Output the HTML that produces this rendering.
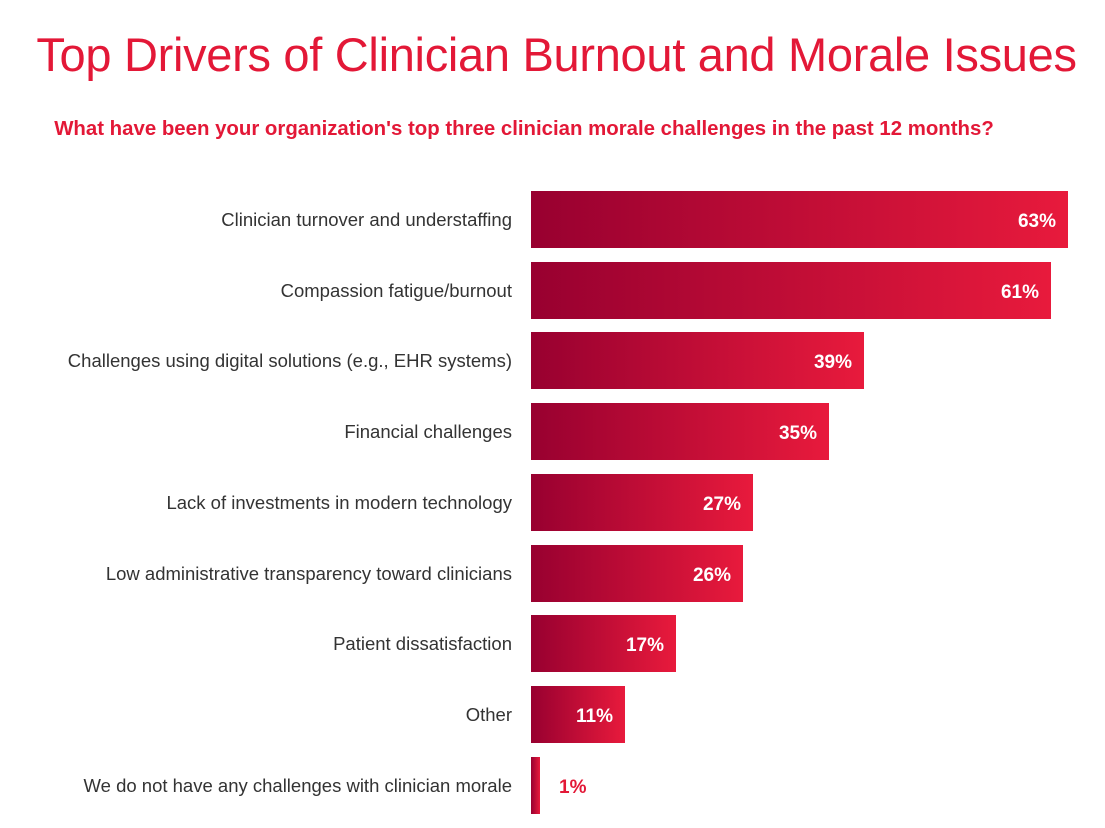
<!DOCTYPE html>
<html><head><meta charset="utf-8"><style>
body{margin:0;width:1105px;height:828px;background:#fff;position:relative;overflow:hidden;font-family:"Liberation Sans",sans-serif}
.t{position:absolute;left:0;width:1113px;text-align:center;top:27px;font-size:47px;color:#e31837;letter-spacing:-0.3px}
.s{position:absolute;left:0;width:1048px;text-align:center;top:118px;font-size:20.4px;font-weight:bold;color:#e31837}
.l{position:absolute;right:593px;font-size:18.5px;color:#333;white-space:nowrap;line-height:57px}
.b{position:absolute;left:531px;height:57px;background:linear-gradient(to right,#980030,#e81a3c)}
.v{position:absolute;font-size:19px;font-weight:bold;color:#fff;line-height:57px;margin-top:2px}
</style></head><body>
<div class="t">Top Drivers of Clinician Burnout and Morale Issues</div>
<div class="s">What have been your organization's top three clinician morale challenges in the past 12 months?</div>

<div class="l" style="top:191px">Clinician turnover and understaffing</div>
<div class="b" style="top:191px;width:537px"></div><div class="v" style="top:191px;right:49px">63%</div>

<div class="l" style="top:262px">Compassion fatigue/burnout</div>
<div class="b" style="top:262px;width:520px"></div><div class="v" style="top:262px;right:66px">61%</div>

<div class="l" style="top:332px">Challenges using digital solutions (e.g., EHR systems)</div>
<div class="b" style="top:332px;width:333px"></div><div class="v" style="top:332px;right:253px">39%</div>

<div class="l" style="top:403px">Financial challenges</div>
<div class="b" style="top:403px;width:298px"></div><div class="v" style="top:403px;right:288px">35%</div>

<div class="l" style="top:474px">Lack of investments in modern technology</div>
<div class="b" style="top:474px;width:222px"></div><div class="v" style="top:474px;right:364px">27%</div>

<div class="l" style="top:545px">Low administrative transparency toward clinicians</div>
<div class="b" style="top:545px;width:212px"></div><div class="v" style="top:545px;right:374px">26%</div>

<div class="l" style="top:615px">Patient dissatisfaction</div>
<div class="b" style="top:615px;width:145px"></div><div class="v" style="top:615px;right:441px">17%</div>

<div class="l" style="top:686px">Other</div>
<div class="b" style="top:686px;width:94px"></div><div class="v" style="top:686px;right:492px">11%</div>

<div class="l" style="top:757px">We do not have any challenges with clinician morale</div>
<div class="b" style="top:757px;width:9px"></div><div class="v" style="top:757px;left:559px;color:#e31837">1%</div>
</body></html>
